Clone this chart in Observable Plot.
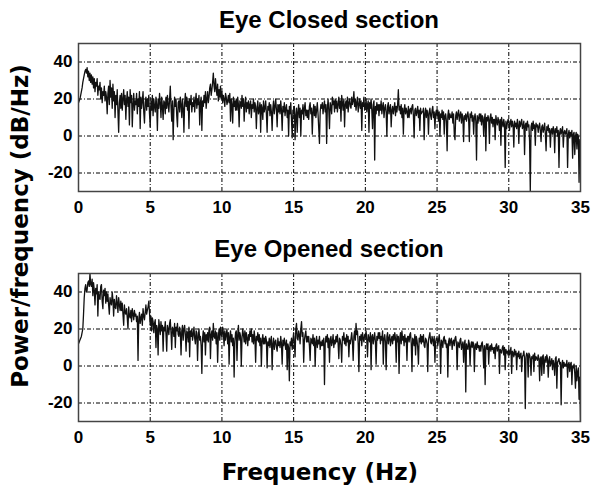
<!DOCTYPE html>
<html>
<head>
<meta charset="utf-8">
<script src="https://cdn.jsdelivr.net/npm/d3@7"></script>
<script src="https://cdn.jsdelivr.net/npm/@observablehq/plot@0.6"></script>
<style>
  html, body { margin: 0; padding: 0; background: #fff; }
  #wrap { position: relative; width: 595px; height: 492px; overflow: hidden; background: #fff; }
  #wrap > svg, #wrap > div { position: absolute; left: 0; }
</style>
</head>
<body>
<div id="wrap"></div>
<script>
// ---- data (dB/Hz), one value every 0.05 Hz from 0 to 35 Hz (one row = 1 Hz) ----
const freqStep = 0.05;
const titles = ["Eye Closed section", "Eye Opened section"];
const xLabel = "Frequency (Hz)";
const yLabel = "Power/frequency (dB/Hz)";
const xTicks = [0, 5, 10, 15, 20, 25, 30, 35];
const yTicks = [-20, 0, 20, 40];

const eyeClosed = [
  18, 19, 20, 22, 24, 26, 29, 31, 33, 35, 36, 34, 37, 32, 35, 30, 34, 29, 33, 28,
  32, 26, 31, 24, 29, 27, 31, 22, 27, 25, 29, 20, 26, 18, 24, 22, 27, 19, 24, 21,
  12, 23, 27, 17, 30, 21, 26, 15, 28, 19, 24, 10, 22, 17, 25, 13, 2, 18, 22, 15,
  23, 14, 20, 25, 17, 22, 9, 19, 24, 16, 21, 6, 25, 18, 22, 5, 17, 23, 14, 19,
  17, 23, 12, 20, 16, 24, 4, 21, 15, 19, 24, 13, 7, 18, 21, 14, 20, 16, 22, 12,
  5, 19, 14, 22, 11, 20, 16, 13, 21, 17, 3, 20, 15, 23, 18, 10, 21, 16, 9, 19,
  18, 12, 21, 15, 22, 17, 13, 20, 27, 16, 8, 19, -2, 14, 21, 16, 20, 11, 5, 18,
  19, 13, 21, 17, 10, 20, 15, 2, 18, 23, 16, 21, 14, 19, 4, 20, 17, 22, 13, 18,
  16, 21, 13, 19, 23, 15, 20, 17, 22, 6, 18, 21, 3, 19, 16, 22, 18, 24, 15, 20,
  24, 18, 21, 26, 28, 22, 25, 29, 34, 27, 24, 31, 26, 22, 28, 19, 25, 21, 27, 20,
  24, 18, 22, 20, 16, 23, 21, 17, 19, 22, 18, 23, 8, 20, 17, 7, 21, 16, 19, 14,
  20, 14, 21, 17, 5, 19, 18, 15, 22, 16, 20, 8, 17, 21, 13, 18, 15, 19, 12, 17,
  19, 10, 17, 15, 20, 13, 18, 16, 4, 15, 19, 12, 14, 18, 2, 17, 15, 9, 19, 13,
  15, 19, 12, 2, 16, 14, 18, 11, 17, 13, 3, 15, 19, 12, 16, 20, 14, 5, 17, 13,
  17, 12, 19, 14, 3, 16, 13, 18, 11, 15, 17, 10, 14, 0, 16, 12, 18, 9, -1, 14,
  12, 16, -2, 11, 15, 2, 13, 17, 10, 15, 0, 14, 12, 17, 9, 15, 18, 11, 14, 10,
  14, 9, 16, 18, 12, 15, 1, 13, 17, 11, 16, 10, 14, 18, 12, 4, -4, 13, 17, 15,
  18, 12, 16, 19, 13, 17, -4, 15, 20, 14, 4, 18, 16, 12, 21, 17, 19, 13, 20, 15,
  19, 13, 17, 21, 15, 19, 8, 22, 18, 14, 20, 5, 17, 19, 15, 21, 13, 18, 20, 16,
  15, 21, 17, 19, 24, 16, 20, 14, 18, 21, 13, 17, 20, 15, 19, 3, 18, 16, 21, 14,
  16, 20, 13, 17, 19, 2, 18, 15, 20, 14, 4, 17, 19, -13, 16, 12, 18, 14, 17, 11,
  17, 14, 19, 12, 16, 18, 10, 15, 17, 13, 0, 16, 18, 12, 15, 17, 5, 14, 16, 12,
  15, 18, 11, 16, 13, 17, 25, 14, 16, 12, 17, 10, 15, 1, 14, 17, 12, 15, 13, 10,
  16, 10, 14, 15, 12, 16, 17, 11, -1, 14, 15, 11, 13, 16, 10, 14, 3, 15, 12, 13,
  13, 15, -2, 12, 15, 10, 14, 12, 1, 13, 15, 11, 9, 14, 16, 10, 13, 4, 12, 14,
  11, 14, 8, 13, 0, 12, 10, 14, 9, 13, 1, 11, 12, 8, -8, 11, 14, 9, 12, 10,
  10, 13, 7, 12, 1, -2, 11, 13, 9, 12, 14, 8, 11, 13, 7, 12, 10, -3, 11, 9,
  12, 8, 11, 13, 9, -3, 12, 10, 13, 8, 11, 1, 10, 12, 8, -13, 11, 7, 10, 12,
  8, 12, 6, 11, 10, 0, 9, 12, -8, 10, 8, 11, 9, -4, 10, 12, 7, 10, 5, 9,
  9, -2, 11, 8, 6, 10, 8, 3, 9, -5, 10, 7, 5, 9, 6, -17, 8, 4, 7, 9,
  8, 3, 7, 9, 5, 8, 6, -6, 8, 5, 7, 4, 9, 6, -4, 8, 5, 7, 9, 4,
  5, 8, -10, 6, 7, 3, 8, 5, 6, -3, -30, 5, 7, 3, 8, 4, 6, -5, 7, 5,
  6, 2, 5, 7, 3, -3, 5, 6, 2, 4, 7, 1, -8, 5, 3, 6, 2, 4, -6, 3,
  4, 1, 5, 3, -9, 4, 2, 5, 0, 3, -17, 2, 4, 1, 3, 5, -6, 2, 3, 1,
  2, 4, -17, 1, 3, -1, 2, 0, 3, -12, 1, 2, -10, 0, 2, -7, 1, 0, -25, -2,
  -4
];

const eyeOpened = [
  12, 13, 14, 15, 16, 18, 20, 28, 37, 42, 44, 40, 41, 45, 46, 43, 50, 44, 43, 47,
  38, 45, 41, 33, 42, 39, 44, 27, 40, 37, 36, 43, 44, 35, 31, 41, 38, 42, 34, 40,
  35, 39, 33, 28, 37, 34, 33, 40, 36, 27, 36, 32, 31, 38, 34, 29, 37, 33, 30, 35,
  30, 34, 28, 22, 33, 29, 28, 31, 26, 20, 32, 27, 26, 30, 24, 31, 28, 25, 30, 27,
  28, 24, 27, 3, 25, 29, 23, 26, 28, 22, 31, 27, 25, 29, 33, 28, 30, 32, 35, 29,
  22, 27, 19, 26, 24, 18, 23, 25, 10, 22, 20, 6, 25, 21, 17, 24, 19, 22, 8, 21,
  19, 24, 17, 8, 22, 20, 17, 23, 25, 18, 9, 21, 20, 16, 23, 10, 21, 19, 23, 17,
  16, 21, 18, 6, 19, 22, 14, 20, 22, 17, 8, 19, 18, 13, 21, 5, 19, 16, 20, 14,
  17, 21, 15, 12, 19, 18, 3, 16, 20, 14, 16, 11, -4, 15, 19, 13, 18, 6, 17, 14,
  18, 13, 20, 21, 4, 17, 19, 14, 23, 16, 15, 19, 12, 18, 2, 16, 20, 14, 21, 17,
  16, 21, 18, 11, 19, 14, 17, 20, 12, 18, 1, 16, 19, 13, 17, 11, 15, -6, 13, 18,
  19, 3, 17, 22, 14, 18, 16, 0, 15, 20, 17, 13, 19, 12, 18, 15, 11, 17, 14, 19,
  16, 20, 13, 17, 12, 19, 15, 2, 16, 14, 18, 13, 17, 11, 15, 0, 14, 17, 12, 15,
  12, 16, 14, -1, 13, 11, 15, 10, 14, 16, -2, 12, 15, 9, 13, 14, 10, 8, 15, 11,
  13, 10, 16, 12, 1, 14, 11, 15, 12, 9, 14, -2, 12, 10, -8, 13, 11, 15, 9, 14,
  18, 12, 5, 20, 23, 15, 14, 19, 17, 12, 20, 24, 16, 18, 2, 14, 17, 19, 13, 16,
  13, 16, 11, 3, 15, 14, 12, 17, 11, 15, 0, 13, 16, 10, 14, 12, 16, 9, 13, 11,
  14, 11, 15, -10, 12, 16, 13, 17, 10, 15, 2, 14, 16, 11, 13, 17, 10, 14, 12, 16,
  13, 17, 12, 4, 15, 14, 11, 2, 16, 14, 18, 12, 15, 11, 17, 13, 16, 5, 14, 12,
  15, 18, 13, 3, 16, 19, 14, 23, 17, 19, 12, -3, 16, 14, 17, 11, 18, 15, 13, 17,
  16, 19, 14, 5, 17, 15, 13, 18, -2, 16, 17, 12, 15, 18, 13, 1, 16, 14, 18, 15,
  18, 12, 16, 14, 19, 1, 15, 17, 13, -2, 16, 18, 12, 15, 17, 11, 14, 16, 12, 17,
  14, 18, 15, 2, 17, 13, 16, -4, 15, 18, 12, 19, 14, 16, 11, 17, 13, 15, 3, 16,
  16, 13, 17, 18, 12, -3, 15, 14, 11, 17, 6, 16, 14, 10, 1, 15, 13, 17, 12, 16,
  13, 17, 11, 10, 15, 14, 12, -3, 14, 16, 18, 13, 12, 16, 14, 11, 16, 2, 13, 15,
  15, 11, 14, 17, 12, -4, 14, 13, 10, 15, 16, 12, 14, 10, 12, -6, 13, 15, 11, 14,
  15, 9, 13, 14, 11, 15, 16, 12, -2, 13, 12, 10, 14, 15, 9, 11, 13, 2, 12, 14,
  -14, 12, 10, 9, 14, 12, 0, 11, 13, 10, 13, 12, -3, 11, 12, 9, 13, 10, 11, 8,
  11, 8, 12, 13, 9, -1, 11, -10, 10, 12, 9, 12, 1, 10, 11, 8, 12, 9, 10, 7,
  10, 4, 11, 12, 8, 10, 11, -4, 9, 8, 7, 10, 11, 6, 10, -2, 9, 7, 8, 6,
  9, 6, 8, 10, -4, 8, 7, 5, 9, 6, 8, -2, 7, 5, 8, 4, 6, 7, -3, 5,
  6, 8, 4, -23, 5, 7, 6, -6, 7, 6, 4, -5, 5, 4, 6, -3, 7, 3, 5, 4,
  3, 6, 4, -8, 4, 5, -5, 5, 6, -4, 3, 5, 2, 6, 4, -6, 3, 5, 0, 2,
  4, -2, 3, 1, -5, 4, 5, -12, 2, 3, 4, 1, 2, -21, 1, 3, -1, 2, 0, 1,
  0, 3, -6, 1, 2, -3, 1, 2, -10, 0, -1, 1, -4, -12, 0, -8, -3, -1, -18, -6,
  -30
];

// ---- drawing ----
const wrap = document.getElementById("wrap");
const gridDash = "4,2,1,2";

function panel(values, top) {
  const data = values.map((db, i) => ({ f: +(i * freqStep).toFixed(3), db }));
  const chart = Plot.plot({
    width: 595,
    height: 221,
    marginLeft: 78,
    marginRight: 15,
    marginTop: 43,
    marginBottom: 30,
    style: {
      fontFamily: "'Liberation Sans', Arial, sans-serif",
      fontSize: "17px",
      fontWeight: "bold",
      color: "#000",
      background: "transparent"
    },
    x: { domain: [0, 35], ticks: xTicks, tickFormat: d => String(d), tickSize: 0, tickPadding: 9, label: null },
    y: { domain: [-30, 50], ticks: yTicks, tickFormat: d => String(d), tickSize: 0, tickPadding: 6, label: null },
    marks: [
      Plot.ruleX(xTicks.slice(1, -1), { stroke: "#000", strokeWidth: 1, strokeDasharray: gridDash }),
      Plot.ruleY(yTicks, { stroke: "#000", strokeWidth: 1, strokeDasharray: gridDash }),
      Plot.line(data, { x: "f", y: "db", stroke: "#111", strokeWidth: 1.3, clip: true }),
      Plot.frame({ stroke: "#444", strokeWidth: 1.5 })
    ]
  });
  chart.style.top = top + "px";
  wrap.appendChild(chart);
}

panel(eyeClosed, 0);
panel(eyeOpened, 230);

// titles and axis labels
const overlay = d3.select(wrap).append("svg")
  .attr("width", 595).attr("height", 492)
  .style("top", "0px").style("pointer-events", "none");

overlay.selectAll("text.title").data(titles).join("text")
  .attr("class", "title")
  .attr("x", 329)
  .attr("y", (d, i) => i === 0 ? 28 : 257)
  .attr("text-anchor", "middle")
  .attr("font-family", "'Liberation Sans', Arial, sans-serif")
  .attr("font-weight", "bold")
  .attr("font-size", 24)
  .text(d => d);

overlay.append("text")
  .attr("x", 320).attr("y", 480)
  .attr("text-anchor", "middle")
  .attr("font-family", "'DejaVu Sans', sans-serif")
  .attr("font-weight", "bold")
  .attr("font-size", 23)
  .text(xLabel);

overlay.append("text")
  .attr("transform", "translate(28,226) rotate(-90)")
  .attr("text-anchor", "middle")
  .attr("font-family", "'DejaVu Sans', sans-serif")
  .attr("font-weight", "bold")
  .attr("font-size", 23)
  .text(yLabel);
</script>
</body>
</html>
